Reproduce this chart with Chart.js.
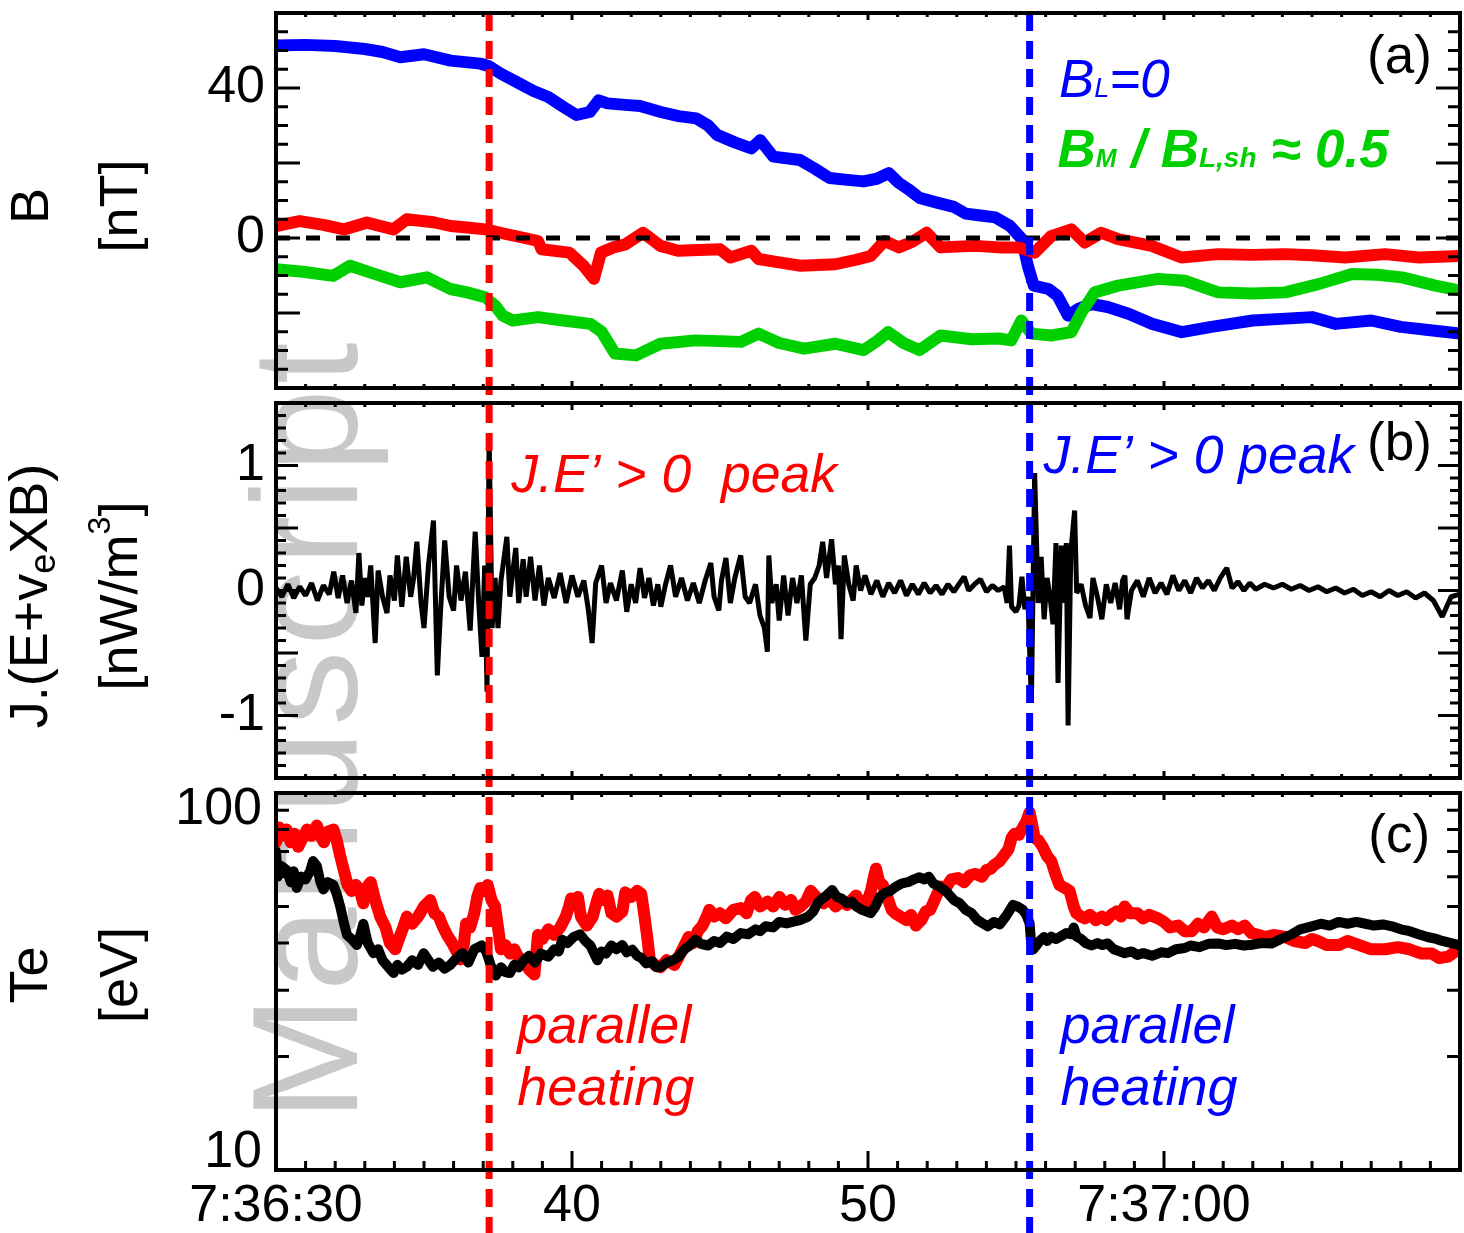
<!DOCTYPE html>
<html>
<head>
<meta charset="utf-8">
<script src="https://cdn.jsdelivr.net/npm/chart.js@4.4.1/dist/chart.umd.min.js"></script>
<style>
  html, body { margin: 0; padding: 0; background: #fff; }
  #fig { position: relative; width: 1464px; height: 1233px; overflow: hidden; background: #fff; }
  #fig canvas { position: absolute; left: 0; }
</style>
</head>
<body>
<div id="fig">
  <canvas id="wm" width="1464" height="1233" style="top:0"></canvas>
  <canvas id="pa" width="1464" height="396" style="top:0"></canvas>
  <canvas id="pb" width="1464" height="390" style="top:396px"></canvas>
  <canvas id="pc" width="1464" height="447" style="top:786px"></canvas>
</div>
<script>
// time axis: seconds after 7:36:00
const timeRange = [30, 70];
const timeTickValues = [30, 40, 50, 60];
const timeTickLabels = ['7:36:30', '40', '50', '7:37:00'];

// times of the two J.E' peaks (dashed markers)
const eventTimes = [37.2, 55.46];

// (a) magnetic field components [nT]
const bLTime = [30, 31, 32, 33, 33.6, 34.2, 35.0, 35.9, 36.9, 37.2, 37.6, 38.2, 38.7, 39.2, 39.7, 40.15, 40.6, 40.9, 41.2, 41.8, 42.3, 43.0, 43.6, 44.2, 44.6, 44.9, 45.5, 46.06, 46.36, 46.8, 47.7, 48.2, 48.7, 49.3, 49.85, 50.3, 50.7, 51.04, 51.4, 51.74, 52.3, 52.9, 53.3, 53.8, 54.3, 54.8, 55.2, 55.4, 55.6, 56.1, 56.4, 56.76, 57.1, 57.55, 58.1, 58.8, 59.6, 60.6, 61.6, 63.0, 64.1, 65.0, 65.8, 67.0, 68.0, 69.0, 70.0];
const bLValues = [51.3, 51.5, 51.2, 50.4, 49.6, 48.2, 49.0, 47.3, 46.5, 45.8, 43.8, 41.3, 39.2, 37.6, 35.0, 32.8, 33.6, 36.7, 35.9, 35.5, 35.2, 33.6, 32.5, 31.9, 30.0, 27.5, 25.5, 23.9, 26.1, 21.7, 20.8, 18.5, 16.0, 15.5, 15.1, 15.8, 17.3, 14.7, 12.8, 10.7, 9.5, 8.3, 6.5, 6.0, 5.5, 3.2, -0.3, -7.4, -12.7, -13.6, -15.4, -20.7, -18.9, -17.6, -18.4, -20.2, -22.9, -25.1, -23.7, -22.0, -21.5, -21.1, -22.9, -22.0, -23.7, -24.6, -25.5];
const bNTime = [30, 30.8, 31.6, 32.3, 33.07, 33.97, 34.42, 35.32, 35.9, 36.45, 37.07, 37.8, 38.4, 38.85, 38.97, 39.91, 40.39, 40.74, 40.98, 41.4, 41.8, 42.4, 42.99, 43.58, 44.3, 45.0, 45.35, 46.06, 46.3, 47.0, 47.72, 48.9, 49.6, 50.09, 50.56, 51.04, 51.5, 51.98, 52.45, 53.0, 53.64, 54.43, 55.07, 55.63, 56.19, 56.87, 57.32, 57.88, 58.45, 59.58, 60.59, 61.83, 63.0, 64.09, 65.0, 66.12, 67.47, 68.6, 70.0];
const bNValues = [3.2, 4.5, 3.5, 2.3, 4.1, 2.3, 5.0, 4.2, 3.2, 2.8, 2.3, 1.0, 0.0, -0.8, -3.0, -3.9, -7.4, -10.9, -3.9, -2.5, -1.7, 1.4, -2.1, -3.4, -3.2, -3.0, -5.2, -3.4, -5.6, -6.5, -7.4, -7.0, -5.8, -4.8, -0.8, -2.5, -1.0, 1.4, -2.5, -2.3, -2.1, -2.5, -2.5, -3.9, 0.5, 2.3, -1.2, 1.4, -0.3, -2.1, -5.2, -4.3, -4.5, -4.3, -4.6, -5.2, -4.3, -5.2, -4.8];
const bMTime = [30, 30.9, 31.93, 32.5, 33.3, 34.2, 35.1, 35.89, 36.45, 37.07, 37.4, 37.66, 38.0, 38.85, 39.7, 40.62, 41.0, 41.45, 42.16, 42.99, 44.17, 45.0, 45.71, 46.3, 47.0, 47.84, 48.9, 49.85, 50.3, 50.68, 51.2, 51.74, 52.45, 53.5, 54.43, 54.84, 55.18, 55.52, 56.19, 56.87, 57.2, 57.66, 58.45, 59.8, 60.7, 61.83, 63.0, 64.09, 65.22, 66.35, 67.2, 68.04, 69.17, 70.0];
const bMValues = [-8.3, -9.0, -10.1, -7.4, -9.5, -11.8, -10.5, -13.6, -14.5, -15.8, -18.0, -20.7, -22.0, -21.1, -22.0, -22.9, -25.0, -30.8, -31.3, -28.2, -27.3, -27.5, -27.7, -25.5, -28.0, -29.5, -28.2, -29.9, -27.5, -25.1, -28.0, -29.9, -26.0, -27.0, -26.8, -27.3, -22.0, -25.5, -26.0, -25.1, -20.0, -14.5, -12.7, -10.9, -11.4, -14.5, -14.8, -14.5, -12.3, -9.6, -9.8, -10.5, -12.7, -14.0];
const bTickValues = [0, 40];

// (b) J.(E + ve x B) [nW/m^3]
const jeTime = [30.0, 30.2, 30.4, 30.6, 30.8, 31.0, 31.2, 31.4, 31.6, 31.8, 31.95, 32.1, 32.25, 32.4, 32.55, 32.7, 32.8, 32.9, 33.0, 33.1, 33.2, 33.35, 33.45, 33.6, 33.75, 33.85, 34.0, 34.1, 34.25, 34.4, 34.55, 34.65, 34.76, 34.9, 35.0, 35.15, 35.32, 35.45, 35.55, 35.7, 35.85, 36.0, 36.1, 36.25, 36.4, 36.56, 36.65, 36.73, 36.85, 36.96, 37.05, 37.13, 37.2, 37.3, 37.4, 37.5, 37.6, 37.8, 37.9, 38.0, 38.1, 38.2, 38.35, 38.45, 38.6, 38.75, 38.9, 39.05, 39.2, 39.4, 39.6, 39.8, 40.0, 40.2, 40.4, 40.55, 40.68, 40.8, 41.0, 41.15, 41.3, 41.5, 41.7, 41.85, 42.0, 42.15, 42.3, 42.45, 42.6, 42.75, 42.9, 43.0, 43.15, 43.33, 43.5, 43.7, 43.9, 44.1, 44.3, 44.5, 44.69, 44.8, 44.96, 45.05, 45.2, 45.35, 45.5, 45.7, 45.85, 46.0, 46.2, 46.35, 46.5, 46.6, 46.65, 46.75, 46.9, 47.0, 47.15, 47.3, 47.45, 47.6, 47.75, 47.9, 48.05, 48.2, 48.35, 48.47, 48.6, 48.77, 48.9, 49.0, 49.09, 49.2, 49.35, 49.5, 49.6, 49.75, 49.9, 50.1, 50.3, 50.5, 50.7, 50.9, 51.1, 51.3, 51.5, 51.7, 51.9, 52.1, 52.3, 52.5, 52.7, 52.9, 53.1, 53.25, 53.4, 53.6, 53.8, 54.0, 54.2, 54.4, 54.6, 54.7, 54.78, 54.85, 55.0, 55.1, 55.2, 55.3, 55.4, 55.52, 55.63, 55.75, 55.85, 55.95, 56.05, 56.15, 56.25, 56.35, 56.42, 56.53, 56.62, 56.7, 56.76, 56.85, 56.98, 57.05, 57.2, 57.35, 57.5, 57.6, 57.75, 57.9, 58.05, 58.2, 58.35, 58.5, 58.6, 58.68, 58.75, 58.9, 59.1, 59.3, 59.5, 59.7, 59.9, 60.1, 60.3, 60.5, 60.7, 60.9, 61.1, 61.3, 61.5, 61.7, 61.9, 62.12, 62.3, 62.5, 62.7, 62.9, 63.1, 63.4, 63.7, 64.0, 64.3, 64.6, 64.9, 65.2, 65.5, 65.8, 66.1, 66.4, 66.7, 67.0, 67.3, 67.6, 67.9, 68.2, 68.5, 68.8, 69.1, 69.4, 69.7, 70.0];
const jeValues = [0.02, -0.05, 0.05, -0.06, 0.03, -0.04, 0.06, -0.08, 0.04, -0.03, 0.15, -0.06, 0.12, -0.1, 0.08, -0.18, 0.3, -0.12, 0.1, -0.05, 0.2, -0.42, 0.16, -0.05, -0.18, 0.12, -0.08, 0.28, -0.13, 0.27, -0.05, 0.1, 0.39, -0.1, -0.3, 0.2, 0.56, -0.68, -0.2, 0.4, -0.05, -0.16, 0.2, -0.08, 0.15, -0.32, 0.1, 0.47, -0.1, -0.53, 0.2, -0.81, 1.24, -0.3, 0.1, -0.3, 0.08, 0.43, -0.05, 0.15, 0.34, -0.1, 0.25, -0.05, 0.27, -0.08, 0.2, -0.12, 0.1, -0.06, 0.14, -0.1, 0.12, -0.05, 0.08, -0.15, -0.42, 0.06, 0.2, -0.1, 0.06, -0.08, 0.16, -0.17, 0.05, -0.1, 0.18, -0.06, 0.1, -0.12, 0.05, -0.13, 0.04, 0.2, -0.05, 0.1, -0.08, 0.06, -0.1, 0.08, 0.22, -0.05, -0.16, 0.08, 0.26, -0.1, 0.1, 0.28, -0.05, -0.1, 0.05, -0.2, -0.3, -0.49, 0.28, -0.1, 0.05, -0.24, 0.12, -0.2, 0.1, -0.1, 0.12, -0.4, 0.05, 0.1, 0.2, 0.39, 0.1, 0.41, 0.05, 0.2, -0.39, 0.28, 0.05, -0.08, 0.2, 0.0, 0.12, -0.03, 0.08, -0.05, 0.06, -0.02, 0.08, -0.04, 0.05, -0.03, 0.06, -0.02, 0.04, -0.03, 0.05, -0.01, 0.06, 0.11, 0.0, 0.05, 0.09, -0.01, 0.04, 0.0, 0.03, -0.1, 0.36, -0.13, -0.17, -0.12, 0.11, -0.15, -0.05, -0.9, 0.94, -0.1, 0.27, -0.23, 0.1, -0.05, -0.27, 0.38, -0.74, 0.36, -0.1, 0.38, -1.08, 0.3, 0.64, -0.02, 0.05, -0.12, -0.22, 0.1, -0.05, -0.23, 0.05, -0.1, 0.06, -0.15, 0.08, 0.12, -0.23, 0.0, 0.08, -0.05, 0.1, -0.02, 0.06, -0.03, 0.12, 0.0, 0.08, -0.02, 0.1, 0.02, 0.08, 0.0, 0.1, 0.18, 0.02, 0.07, 0.0, 0.06, 0.01, 0.05, 0.02, 0.05, 0.01, 0.04, 0.0, 0.03, -0.01, 0.02, -0.02, 0.01, -0.04, -0.01, -0.05, 0.0, -0.04, -0.01, -0.06, -0.02, -0.08, -0.21, -0.05, -0.03];
const jeTickValues = [-1, 0, 1];

// (c) electron temperature [eV], parallel (red) and perpendicular (black)
const teParTime = [30.0, 30.12, 30.25, 30.36, 30.5, 30.62, 30.75, 30.9, 31.05, 31.2, 31.38, 31.5, 31.62, 31.75, 31.94, 32.05, 32.17, 32.3, 32.42, 32.55, 32.7, 32.84, 32.95, 33.05, 33.2, 33.35, 33.52, 33.7, 33.85, 34.03, 34.15, 34.3, 34.42, 34.6, 34.8, 35.0, 35.21, 35.35, 35.5, 35.65, 35.78, 35.95, 36.1, 36.23, 36.35, 36.42, 36.56, 36.7, 36.8, 36.9, 37.05, 37.15, 37.28, 37.4, 37.5, 37.6, 37.75, 37.9, 38.05, 38.2, 38.37, 38.55, 38.73, 38.85, 39.0, 39.2, 39.4, 39.6, 39.79, 39.9, 39.97, 40.1, 40.2, 40.3, 40.5, 40.7, 40.85, 40.92, 41.05, 41.2, 41.33, 41.5, 41.7, 41.8, 42.0, 42.2, 42.34, 42.45, 42.55, 42.63, 42.8, 42.99, 43.2, 43.46, 43.7, 43.94, 44.1, 44.25, 44.41, 44.55, 44.64, 44.8, 45.0, 45.2, 45.45, 45.71, 45.9, 46.05, 46.18, 46.35, 46.6, 46.8, 47.01, 47.2, 47.4, 47.55, 47.72, 47.9, 48.07, 48.25, 48.5, 48.7, 48.9, 49.1, 49.3, 49.45, 49.6, 49.8, 49.95, 50.1, 50.2, 50.27, 50.38, 50.5, 50.65, 50.8, 50.91, 51.1, 51.3, 51.45, 51.62, 51.8, 51.95, 52.1, 52.25, 52.45, 52.6, 52.81, 53.04, 53.25, 53.45, 53.64, 53.85, 54.0, 54.15, 54.27, 54.45, 54.6, 54.75, 54.85, 54.95, 55.1, 55.23, 55.35, 55.46, 55.55, 55.63, 55.75, 55.9, 56.05, 56.19, 56.33, 56.47, 56.65, 56.81, 56.95, 57.04, 57.2, 57.32, 57.5, 57.7, 57.9, 58.05, 58.22, 58.4, 58.55, 58.67, 58.85, 59.1, 59.3, 59.5, 59.8, 60.0, 60.2, 60.48, 60.7, 60.93, 61.15, 61.35, 61.61, 61.8, 62.0, 62.3, 62.5, 62.73, 62.95, 63.2, 63.4, 63.7, 64.09, 64.4, 64.77, 65.0, 65.2, 65.5, 65.9, 66.2, 66.6, 67.0, 67.47, 67.9, 68.3, 68.7, 69.05, 69.3, 69.6, 69.85, 70.0];
const teParValues = [74, 81, 77, 80, 74, 78, 72, 76, 80, 77, 82, 77, 74, 79, 80, 75, 68, 62, 57, 55, 57, 55, 51, 56, 58, 52, 47, 44, 40, 38.5, 41, 44, 47, 45, 47, 50, 52, 48, 47, 44, 42, 40, 38, 36.2, 40, 45, 44, 48, 53, 56, 55, 57, 52, 50, 44, 38.5, 39.5, 37.5, 38.5, 36.5, 36, 34, 33, 42, 41, 43.5, 42, 44, 47, 50, 52.5, 51.5, 53, 47, 44.5, 47, 52, 54, 52, 53.5, 48, 47, 48.5, 54.5, 53, 55, 54, 47, 41, 36, 35, 34.5, 36, 35, 38, 41.5, 40, 43, 44.5, 47, 49, 47, 48, 46.5, 49, 49.5, 48, 52, 53, 50, 51.5, 50, 53, 50.5, 52, 49, 50, 51.5, 55, 53, 51, 52.5, 50, 51.5, 50.5, 52, 53.5, 50, 51, 55, 60, 63, 58, 57, 53, 49, 48, 47, 46, 47.5, 44.5, 46, 48.5, 49, 52, 56.5, 55.5, 59, 59.5, 58, 60.5, 61, 60, 62.5, 63, 64.5, 66, 68.5, 71, 76, 78, 77.5, 81, 84, 89, 82, 76, 75, 72, 68, 66, 61, 57, 56, 55, 50, 48, 47, 46.5, 47.5, 46, 47, 46, 47.5, 48.5, 47, 50, 48, 48, 46.5, 47.5, 46.5, 45.5, 44, 44.5, 43, 43, 45, 44, 47, 44, 43.5, 44.5, 43.5, 44.5, 42.5, 42, 41.5, 42, 41.5, 40.5, 40, 41, 40.5, 39.5, 39.5, 40.5, 39.5, 38.5, 38.5, 39, 38.5, 37.5, 37.5, 36.5, 36.8, 38, 39.5];
const tePerpTime = [30.0, 30.06, 30.18, 30.36, 30.5, 30.6, 30.7, 30.85, 31.0, 31.15, 31.25, 31.38, 31.5, 31.6, 31.75, 31.94, 32.05, 32.17, 32.3, 32.4, 32.55, 32.73, 32.85, 32.95, 33.1, 33.29, 33.45, 33.6, 33.8, 33.97, 34.1, 34.25, 34.42, 34.6, 34.8, 34.99, 35.15, 35.3, 35.5, 35.7, 35.89, 36.1, 36.3, 36.5, 36.7, 36.95, 37.1, 37.2, 37.3, 37.43, 37.6, 37.75, 37.9, 38.05, 38.2, 38.37, 38.55, 38.75, 38.95, 39.2, 39.4, 39.55, 39.67, 39.85, 40.05, 40.27, 40.45, 40.62, 40.75, 40.86, 41.0, 41.15, 41.33, 41.5, 41.7, 41.85, 42.04, 42.2, 42.35, 42.51, 42.7, 42.85, 42.99, 43.2, 43.4, 43.6, 43.8, 44.0, 44.17, 44.35, 44.6, 44.8, 45.0, 45.23, 45.45, 45.7, 45.95, 46.2, 46.35, 46.54, 46.8, 47.0, 47.25, 47.45, 47.7, 47.96, 48.15, 48.3, 48.43, 48.6, 48.79, 48.95, 49.1, 49.3, 49.45, 49.6, 49.8, 50.09, 50.25, 50.4, 50.56, 50.75, 50.95, 51.15, 51.35, 51.55, 51.74, 51.9, 52.05, 52.2, 52.4, 52.55, 52.69, 52.9, 53.1, 53.3, 53.5, 53.7, 53.9, 54.05, 54.25, 54.45, 54.65, 54.8, 54.9, 55.05, 55.23, 55.35, 55.46, 55.5, 55.57, 55.7, 55.8, 55.95, 56.05, 56.19, 56.35, 56.5, 56.7, 56.87, 56.95, 57.05, 57.2, 57.35, 57.55, 57.75, 57.9, 58.1, 58.3, 58.5, 58.67, 58.9, 59.1, 59.3, 59.6, 59.9, 60.14, 60.4, 60.7, 60.9, 61.2, 61.5, 61.83, 62.1, 62.4, 62.7, 63.0, 63.3, 63.64, 63.95, 64.32, 64.6, 64.99, 65.3, 65.6, 65.9, 66.2, 66.5, 66.8, 67.1, 67.4, 67.7, 68.0, 68.3, 68.6, 68.9, 69.2, 69.4, 69.7, 70.0];
const tePerpValues = [70, 60, 64, 62.5, 58, 62, 56, 60, 59, 62, 66, 64, 58, 55.5, 58, 57, 54, 50, 45, 42, 41, 39.5, 42, 45, 40, 37.6, 38.5, 36, 34.5, 33.3, 35, 34, 34.6, 36, 35, 37.6, 36, 34.6, 35.5, 34.2, 35, 36.5, 37.6, 35.5, 38.5, 39.4, 38, 36, 34, 32.8, 34.5, 33.5, 33.3, 35, 34.5, 36, 37, 35.5, 37.5, 36.8, 38.5, 38, 40.8, 40, 41.5, 42.2, 40.5, 39.4, 37.5, 36, 38, 37.5, 39.4, 38.5, 39.5, 37.8, 38.4, 37, 36.5, 35.3, 35.8, 34.5, 34.6, 35.5, 36, 36.8, 38.5, 39.5, 40.8, 39.8, 39.4, 40.5, 40, 41.6, 41, 42.5, 42.2, 43.5, 43, 44.3, 44, 45.5, 45.1, 45.5, 46, 46.9, 48.5, 51, 52.3, 53.5, 55.3, 53, 52.5, 51, 51.5, 50, 49, 48, 50, 53, 54.3, 55, 56.5, 57.6, 58, 59, 59.8, 59, 60, 57.6, 56.5, 55.5, 54.3, 52, 51, 49, 48, 46, 45, 44.3, 45.5, 44.8, 47, 49, 50.5, 50, 49, 47.5, 45.1, 41, 38.4, 39.5, 40.5, 41.5, 40.5, 41.6, 41, 41.6, 42.5, 42.2, 44, 41.6, 41, 40, 39.4, 40, 39.5, 39.9, 38.5, 38, 37.6, 38, 37.2, 37.6, 37, 37.8, 37.6, 38.5, 38.8, 39.4, 39, 39.8, 39.9, 39.5, 39.8, 39.4, 39.6, 40, 39.9, 41, 42.2, 43.5, 44.3, 45, 44.5, 45.5, 45, 45.5, 45, 44.5, 44.8, 44.3, 43.5, 43, 42.2, 41.5, 41, 40.5, 40, 39.4];
const teTickValues = [10, 100];

const FONT = '"Liberation Sans", Arial, Helvetica, sans-serif';
const RED = '#ff0000', BLUE = '#0000ff', GREEN = '#00d000';
const eventColors = [RED, BLUE];

Chart.defaults.font.family = FONT;
Chart.defaults.color = '#000';

function fontOf(p) {
  return `${p.style || 'normal'} ${p.weight || 'normal'} ${p.size}px ${FONT}`;
}

// draws a run of text pieces (used for sub/superscripts)
function drawParts(ctx, parts, x, y, align) {
  let width = 0;
  parts.forEach(p => { ctx.font = fontOf(p); width += ctx.measureText(p.t).width; });
  let cx = align === 'right' ? x - width : align === 'center' ? x - width / 2 : x;
  ctx.textAlign = 'left';
  ctx.textBaseline = 'alphabetic';
  parts.forEach(p => {
    ctx.font = fontOf(p);
    ctx.fillText(p.t, cx, y + (p.dy || 0));
    cx += ctx.measureText(p.t).width;
  });
}

function stepTicks(from, to, step, majorEvery) {
  const n = Math.round((to - from) / step);
  const out = [];
  for (let i = 0; i <= n; i++) out.push({ v: from + i * step, major: i % majorEvery === 0 });
  return out;
}

const timeTicks = stepTicks(timeRange[0], timeRange[1], 1, 10);

// frame, inward ticks, event markers, labels
function panelDecor(cfg) {
  return {
    id: 'panelDecor',
    afterDatasetsDraw(chart) {
      const ctx = chart.ctx;
      const xs = chart.scales.x;
      const y0 = cfg.markersFromArea ? chart.chartArea.top : 0;
      ctx.save();
      ctx.lineWidth = 7;
      ctx.setLineDash([18, 10]);
      ctx.lineDashOffset = cfg.top + y0 - 13;
      eventTimes.forEach((t, i) => {
        const px = xs.getPixelForValue(t);
        ctx.strokeStyle = eventColors[i];
        ctx.beginPath();
        ctx.moveTo(px, y0);
        ctx.lineTo(px, chart.height);
        ctx.stroke();
      });
      ctx.restore();
    },
    afterDraw(chart) {
      const ctx = chart.ctx;
      const { left, right, top, bottom } = chart.chartArea;
      const xs = chart.scales.x, ys = chart.scales.y;
      ctx.save();

      ctx.strokeStyle = '#000';
      ctx.lineWidth = 3;
      ctx.beginPath();
      timeTicks.forEach(tk => {
        const px = xs.getPixelForValue(tk.v);
        const lt = tk.major ? cfg.topTick[0] : cfg.topTick[1];
        const lb = tk.major ? cfg.bottomTick[0] : cfg.bottomTick[1];
        ctx.moveTo(px, top); ctx.lineTo(px, top + lt);
        ctx.moveTo(px, bottom); ctx.lineTo(px, bottom - lb);
      });
      cfg.yTicks.forEach(tk => {
        const py = ys.getPixelForValue(tk.v);
        const l = tk.major ? cfg.yTick[0] : cfg.yTick[1];
        ctx.moveTo(left, py); ctx.lineTo(left + l, py);
        ctx.moveTo(right, py); ctx.lineTo(right - l, py);
      });
      ctx.stroke();
      ctx.lineWidth = 4;
      ctx.strokeRect(left, top, right - left, bottom - top);

      ctx.fillStyle = '#000';
      if (cfg.edgeLabels) {
        // end labels of the log axis sit just inside the frame
        ctx.font = `52px ${FONT}`;
        ctx.textAlign = 'right';
        ctx.textBaseline = 'middle';
        cfg.edgeLabels.forEach(v => {
          const py = ys.getPixelForValue(v);
          const inset = py < (top + bottom) / 2 ? 17 : -17;
          ctx.fillText(String(v), left - 14, py + inset);
        });
      }

      cfg.titles.forEach(tl => {
        ctx.save();
        ctx.translate(tl.x, cfg.titleY);
        ctx.rotate(-Math.PI / 2);
        ctx.fillStyle = '#000';
        drawParts(ctx, tl.parts, 0, 0, 'center');
        ctx.restore();
      });

      cfg.texts.forEach(tx => {
        ctx.fillStyle = tx.color || '#000';
        drawParts(ctx, tx.parts, xs.getPixelForValue(tx.x), ys.getPixelForValue(tx.y), tx.align || 'left');
      });
      ctx.restore();
    }
  };
}

function series(times, values, color, width, order, extra) {
  return Object.assign({
    data: times.map((t, i) => ({ x: t, y: values[i] })),
    borderColor: color,
    borderWidth: width,
    order: order,
    pointRadius: 0,
    fill: false,
  }, extra || {});
}

function timeScale(showLabels) {
  const s = {
    type: 'linear',
    min: timeRange[0],
    max: timeRange[1],
    display: showLabels,
    grid: { display: false, drawTicks: false },
    border: { display: false },
  };
  if (showLabels) {
    s.afterFit = sc => { sc.height = 63; };
    s.afterBuildTicks = sc => { sc.ticks = timeTickValues.map(v => ({ value: v })); };
    s.ticks = {
      autoSkip: false, maxRotation: 0, minRotation: 0, padding: 5,
      font: { size: 52 }, color: '#000',
      callback: (v, i) => timeTickLabels[i],
    };
  }
  return s;
}

function valueScale(type, min, max, tickValues) {
  return {
    type: type,
    min: min,
    max: max,
    afterFit: sc => {
      sc.width = 276;
      // labels are not at the axis ends, so no extra room above/below
      sc.paddingTop = 0;
      sc.paddingBottom = 0;
    },
    afterBuildTicks: sc => { sc.ticks = (tickValues || []).map(v => ({ value: v })); },
    ticks: {
      display: !!tickValues, padding: 11,
      font: { size: 52 }, color: '#000',
      callback: v => String(v),
    },
    grid: { display: false, drawTicks: false },
    border: { display: false },
  };
}

function buildPanel(id, padTop, padBottom, datasets, xScale, yScale, deco) {
  return new Chart(document.getElementById(id), {
    type: 'line',
    data: { datasets: datasets },
    options: {
      responsive: false,
      animation: false,
      events: [],
      layout: { padding: { left: 0, right: 4, top: padTop, bottom: padBottom } },
      plugins: { legend: { display: false }, tooltip: { enabled: false } },
      elements: { line: { tension: 0, borderJoinStyle: 'round', borderCapStyle: 'round' } },
      scales: { x: xScale, y: yScale },
    },
    plugins: [panelDecor(deco)],
  });
}

// watermark behind the panels
(function () {
  const ctx = document.getElementById('wm').getContext('2d');
  ctx.save();
  ctx.translate(357, 1121);
  ctx.rotate(-Math.PI / 2);
  ctx.font = `150px ${FONT}`;
  ctx.letterSpacing = '5px';
  ctx.fillStyle = '#c8c8c8';
  ctx.fillText('Manuscript', 0, 0);
  ctx.restore();
})();

// (a) B
buildPanel('pa', 13, 8, [
  series(timeRange, [0, 0], '#000', 5, 0, { borderDash: [14, 16], borderCapStyle: 'butt' }),
  series(bNTime, bNValues, RED, 12, 1),
  series(bMTime, bMValues, GREEN, 12, 2),
  series(bLTime, bLValues, BLUE, 12, 3),
], timeScale(false), valueScale('linear', -40, 60, bTickValues), {
  top: 0,
  markersFromArea: true,
  topTick: [7, 4], bottomTick: [7, 4], yTick: [24, 12],
  yTicks: stepTicks(-40, 60, 5, 4),
  titleY: 206,
  titles: [
    { x: 48, parts: [{ t: 'B', size: 54 }] },
    { x: 137, parts: [{ t: '[nT]', size: 54 }] },
  ],
  texts: [
    { x: 69.05, y: 44.0, align: 'right', parts: [{ t: '(a)', size: 53 }] },
    { x: 56.45, y: 37.7, color: BLUE, parts: [
      { t: 'B', size: 53, style: 'italic' },
      { t: 'L', size: 27, style: 'italic' },
      { t: '=0', size: 53, style: 'italic' },
    ] },
    { x: 56.4, y: 19.0, color: GREEN, parts: [
      { t: 'B', size: 53, style: 'italic', weight: 'bold' },
      { t: 'M', size: 25, style: 'italic', weight: 'bold' },
      { t: ' / ', size: 53, style: 'italic', weight: 'bold' },
      { t: 'B', size: 53, style: 'italic', weight: 'bold' },
      { t: 'L,sh', size: 28, style: 'italic', weight: 'bold' },
      { t: ' \u2248 0.5', size: 53, style: 'italic', weight: 'bold' },
    ] },
  ],
});

// (b) J.E'
buildPanel('pb', 7, 8, [
  series(jeTime, jeValues, '#000', 5, 1, { borderJoinStyle: 'bevel', borderCapStyle: 'butt' }),
], timeScale(false), valueScale('linear', -1.5, 1.5, jeTickValues), {
  top: 396,
  markersFromArea: false,
  topTick: [7, 4], bottomTick: [7, 4], yTick: [22, 10],
  yTicks: stepTicks(-1.5, 1.5, 0.1, 5),
  titleY: 200,
  titles: [
    { x: 47, parts: [{ t: 'J.(E+v', size: 54 }, { t: 'e', size: 36, dy: 8 }, { t: 'XB)', size: 54 }] },
    { x: 137, parts: [{ t: '[nW/m', size: 54 }, { t: '3', size: 32, dy: -27 }, { t: ']', size: 54 }] },
  ],
  texts: [
    { x: 69.05, y: 1.044, align: 'right', parts: [{ t: '(b)', size: 53 }] },
    { x: 37.95, y: 0.79, color: RED, parts: [{ t: 'J.E\u2019 > 0  peak', size: 53.5, style: 'italic' }] },
    { x: 55.93, y: 0.94, color: BLUE, parts: [{ t: 'J.E\u2019 > 0 peak', size: 53.5, style: 'italic' }] },
  ],
});

// (c) Te
buildPanel('pc', 7, 0, [
  series(tePerpTime, tePerpValues, '#000', 10, 1),
  series(teParTime, teParValues, RED, 12, 2),
], timeScale(true), valueScale('logarithmic', 10, 100, null), {
  top: 786,
  markersFromArea: false,
  topTick: [7, 4], bottomTick: [19, 9], yTick: [13, 13],
  yTicks: [20, 30, 40, 50, 60, 70, 80, 90].map(v => ({ v: v, major: false })),
  edgeLabels: teTickValues,
  titleY: 189,
  titles: [
    { x: 47, parts: [{ t: 'Te', size: 54 }] },
    { x: 137, parts: [{ t: '[eV]', size: 54 }] },
  ],
  texts: [
    { x: 68.99, y: 69.9, align: 'right', parts: [{ t: '(c)', size: 53 }] },
    { x: 38.15, y: 21.7, color: RED, parts: [{ t: 'parallel', size: 54, style: 'italic' }] },
    { x: 38.15, y: 14.9, color: RED, parts: [{ t: 'heating', size: 54, style: 'italic' }] },
    { x: 56.5, y: 21.7, color: BLUE, parts: [{ t: 'parallel', size: 54, style: 'italic' }] },
    { x: 56.5, y: 14.9, color: BLUE, parts: [{ t: 'heating', size: 54, style: 'italic' }] },
  ],
});
</script>
</body>
</html>
